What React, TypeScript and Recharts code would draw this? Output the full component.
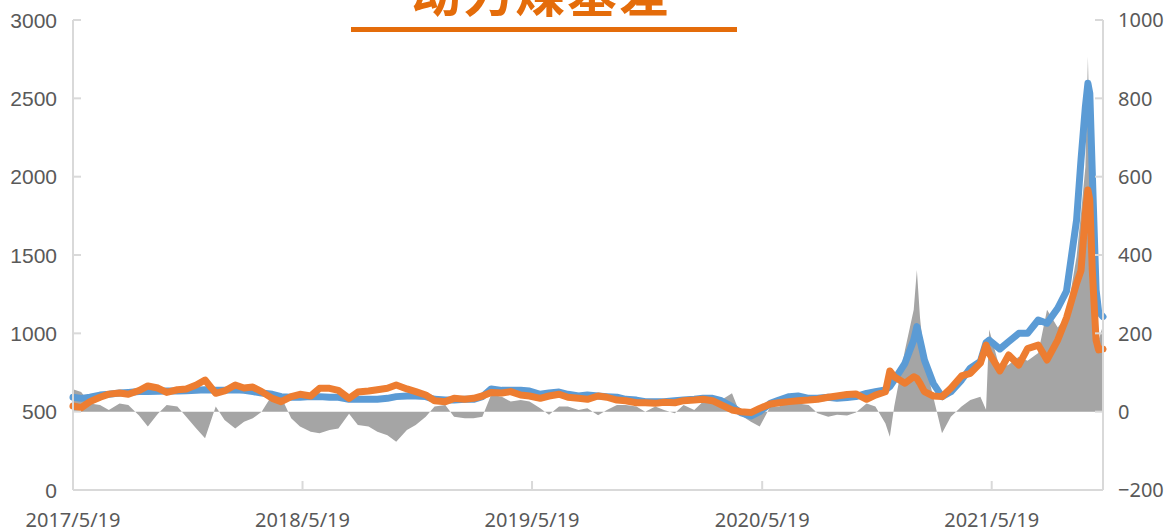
import React from "react";
import { Area, ComposedChart, Line, XAxis, YAxis } from "recharts";

const DATES = [
  "2017-05-19", "2017-06-01", "2017-06-15", "2017-07-01", "2017-07-15", "2017-08-01", "2017-08-15",
  "2017-09-01", "2017-09-15", "2017-10-01", "2017-10-15", "2017-11-01", "2017-11-15", "2017-12-01",
  "2017-12-15", "2018-01-01", "2018-01-15", "2018-02-01", "2018-02-15", "2018-03-01", "2018-03-15",
  "2018-04-01", "2018-04-15", "2018-05-01", "2018-05-15", "2018-06-01", "2018-06-15", "2018-07-01",
  "2018-07-15", "2018-08-01", "2018-08-15", "2018-09-01", "2018-09-15", "2018-10-01", "2018-10-15",
  "2018-11-01", "2018-11-15", "2018-12-01", "2018-12-15", "2019-01-01", "2019-01-15", "2019-02-01",
  "2019-02-15", "2019-03-01", "2019-03-15", "2019-04-01", "2019-04-15", "2019-05-01", "2019-05-15",
  "2019-06-01", "2019-06-15", "2019-07-01", "2019-07-15", "2019-08-01", "2019-08-15", "2019-09-01",
  "2019-09-15", "2019-10-01", "2019-10-15", "2019-11-01", "2019-11-15", "2019-12-01", "2019-12-15",
  "2020-01-01", "2020-01-15", "2020-02-01", "2020-02-15", "2020-03-01", "2020-03-15", "2020-04-01",
  "2020-04-15", "2020-05-01", "2020-05-15", "2020-06-01", "2020-06-15", "2020-07-01", "2020-07-15",
  "2020-08-01", "2020-08-15", "2020-09-01", "2020-09-15", "2020-10-01", "2020-10-15", "2020-11-01",
  "2020-11-15", "2020-12-01", "2020-12-08", "2020-12-15", "2021-01-01", "2021-01-15", "2021-01-20",
  "2021-01-25", "2021-02-01", "2021-02-15", "2021-03-01", "2021-03-15", "2021-04-01", "2021-04-15",
  "2021-05-01", "2021-05-10", "2021-05-15", "2021-06-01", "2021-06-15", "2021-07-01", "2021-07-15",
  "2021-08-01", "2021-08-15", "2021-09-01", "2021-09-15", "2021-10-01", "2021-10-08", "2021-10-15",
  "2021-10-19", "2021-10-22", "2021-10-26", "2021-11-01", "2021-11-05", "2021-11-12",
];

// 现货价格（左轴）
const SPOT = [
  592, 585, 592, 606, 611, 619, 623, 628, 628, 630, 632, 632, 634, 636,
  640, 636, 636, 640, 636, 628, 619, 611, 596, 592, 592, 596, 596, 592,
  592, 579, 579, 579, 579, 585, 596, 600, 600, 596, 579, 574, 574, 579,
  579, 596, 645, 636, 636, 636, 632, 611, 619, 625, 611, 600, 606, 600,
  596, 592, 579, 574, 564, 564, 564, 570, 574, 579, 585, 585, 570, 532,
  494, 472, 500, 553, 574, 596, 600, 585, 585, 592, 585, 590, 596, 617,
  627, 638, 660, 702, 809, 957, 1043, 957, 830, 681, 596, 627, 702, 778,
  820, 940, 957, 900, 947, 1000, 1000, 1085, 1064, 1160, 1270, 1723, 2106, 2447,
  2596, 2532, 2021, 1277, 1138, 1106,
];

// 期货价格（左轴）
const FUTURES = [
  536, 525, 564, 592, 612, 619, 611, 635, 664, 651, 623, 640, 645, 670,
  702, 617, 632, 670, 651, 657, 628, 585, 564, 596, 611, 600, 649, 649,
  636, 585, 625, 632, 640, 649, 670, 645, 628, 606, 570, 564, 585, 579,
  585, 600, 623, 619, 628, 606, 600, 585, 600, 611, 592, 585, 579, 600,
  592, 574, 570, 557, 557, 553, 560, 557, 570, 574, 579, 570, 543, 511,
  500, 494, 521, 549, 557, 564, 570, 574, 579, 592, 600, 610, 613, 579,
  606, 627, 760, 723, 681, 723, 713, 681, 628, 600, 596, 649, 728, 745,
  810, 925, 872, 760, 862, 798, 902, 925, 830, 957, 1100, 1319, 1400, 1766,
  1915, 1851, 1400, 957, 894, 900,
];

// 基差（右轴）
const BASIS = [
  57, 50, 21, 17, 4, 21, 17, -10, -38, -5, 17, 13, -13, -43,
  -68, 13, -21, -43, -26, -17, 0, 43, 38, -17, -38, -51, -55, -47,
  -43, -5, -34, -38, -51, -60, -77, -47, -34, -13, 13, 17, -13, -17,
  -17, -13, 43, 38, 26, 30, 26, 9, -8, 13, 13, 4, 9, -9,
  4, 17, 17, 13, 0, 13, 4, -4, 17, 4, 26, 30, 30, 47,
  -9, -26, -38, 13, 13, 26, 21, 17, -4, -13, -8, -10, -2, 21,
  13, -30, -64, 13, 157, 260, 362, 240, 133, 38, -55, -13, 13, 30,
  38, 5, 210, 110, 120, 140, 130, 150, 260, 215, 243, 396, 506, 625,
  906, 694, 481, 200, 183, 220,
];

const X_TICK_LABELS = ["2017/5/19", "2018/5/19", "2019/5/19", "2020/5/19", "2021/5/19"];
const LEFT_TICKS = [0, 500, 1000, 1500, 2000, 2500, 3000];
const RIGHT_TICKS = [-200, 0, 200, 400, 600, 800, 1000];
const TITLE = "动力煤基差";

const parseSlash = (s: string) => {
  const [y, m, d] = s.split("/").map(Number);
  return Date.UTC(y, m - 1, d);
};

const data = DATES.map((d, i) => ({
  t: Date.parse(d),
  spot: SPOT[i],
  futures: FUTURES[i],
  basis: BASIS[i],
}));

const X_TICKS = X_TICK_LABELS.map(parseSlash);
const X_LABEL: Record<number, string> = {};
X_TICK_LABELS.forEach((l) => (X_LABEL[parseSlash(l)] = l));

const AXIS = "#D9D9D9";
const TEXT = "#595959";
const ORANGE = "#E46C0A";

function LeftTick(props: any) {
  const { x, y, payload } = props;
  return (
    <g>
      <line x1={x} x2={x + 8} y1={y} y2={y} stroke={AXIS} strokeWidth={2} />
      <text x={x - 16} y={y} dy="0.36em" textAnchor="end" fill={TEXT}
        fontFamily="'Liberation Sans', Arial, sans-serif" fontSize={21}>
        {payload.value}
      </text>
    </g>
  );
}

function RightTick(props: any) {
  const { x, y, payload } = props;
  const v = payload.value as number;
  return (
    <g>
      <line x1={x} x2={x - 8} y1={y} y2={y} stroke={AXIS} strokeWidth={2} />
      <text x={x + 15} y={y} dy="0.36em" textAnchor="start" fill={TEXT}
        fontFamily="'Noto Sans', sans-serif" fontSize={20}>
        {v < 0 ? `\u2212${Math.abs(v)}` : v}
      </text>
    </g>
  );
}

function BottomTick(props: any) {
  const { x, y, payload } = props;
  return (
    <g>
      <line x1={x} x2={x} y1={y} y2={y - 9} stroke={AXIS} strokeWidth={2} />
      <text x={x} y={y + 37} textAnchor="middle" fill={TEXT}
        fontFamily="'Noto Sans', sans-serif" fontSize={20}>
        {X_LABEL[payload.value] ?? ""}
      </text>
    </g>
  );
}

export default function App() {
  return (
    <div style={{ position: "absolute", left: 0, top: 0, width: 1169, height: 532, background: "#fff" }}>
      <ComposedChart
        width={1169}
        height={532}
        data={data}
        margin={{ top: 20, right: 0, left: 0, bottom: 0 }}
      >
        <XAxis
          dataKey="t"
          type="number"
          domain={[Date.parse(DATES[0]), Date.parse(DATES[DATES.length - 1])]}
          ticks={X_TICKS}
          interval={0}
          height={42}
          tickSize={0}
          tickMargin={0}
          tickLine={false}
          axisLine={{ stroke: AXIS, strokeWidth: 2 }}
          tick={<BottomTick />}
        />
        <YAxis
          yAxisId="left"
          domain={[0, 3000]}
          ticks={LEFT_TICKS}
          width={73}
          tickSize={0}
          tickMargin={0}
          tickLine={false}
          axisLine={{ stroke: AXIS, strokeWidth: 2 }}
          tick={<LeftTick />}
        />
        <YAxis
          yAxisId="right"
          orientation="right"
          domain={[-200, 1000]}
          ticks={RIGHT_TICKS}
          width={66}
          tickSize={0}
          tickMargin={0}
          tickLine={false}
          axisLine={{ stroke: AXIS, strokeWidth: 2 }}
          tick={<RightTick />}
        />
        <Area
          yAxisId="right"
          dataKey="basis"
          type="linear"
          baseValue={0}
          fill="#A5A5A5"
          fillOpacity={1}
          stroke="none"
          isAnimationActive={false}
        />
        <Line
          yAxisId="left"
          dataKey="spot"
          type="linear"
          stroke="#5B9BD5"
          strokeWidth={7}
          strokeLinejoin="round"
          strokeLinecap="round"
          dot={false}
          isAnimationActive={false}
        />
        <Line
          yAxisId="left"
          dataKey="futures"
          type="linear"
          stroke="#ED7D31"
          strokeWidth={7}
          strokeLinejoin="round"
          strokeLinecap="round"
          dot={false}
          isAnimationActive={false}
        />
      </ComposedChart>
      <svg width={1169} height={40} style={{ position: "absolute", left: 0, top: 0, pointerEvents: "none" }}>
        <text x={541} y={12} textAnchor="middle" fill={ORANGE} fontSize={50} fontWeight={700}
          letterSpacing={2} fontFamily="'Noto Sans CJK SC', sans-serif">
          {TITLE}
        </text>
        <rect x={351} y={27} width={386} height={5} fill={ORANGE} />
      </svg>
    </div>
  );
}
